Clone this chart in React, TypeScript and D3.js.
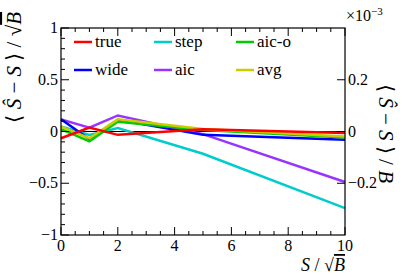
import React from 'react';
import * as d3 from 'd3';

// x positions: S / sqrt(B)
const xs = [0, 1, 2, 5, 10];

// series values, in units of 1e-3 (right axis)
const names = ['true', 'step', 'aic-o', 'wide', 'aic', 'avg'];
const colors = ['#ff0000', '#00cccc', '#00cc00', '#0000ff', '#9933ff', '#cccc00'];
const trueVals = [-0.026, 0.015, -0.013, 0.009, -0.006];
const stepVals = [0.02, -0.013, 0.013, -0.086, -0.296];
const aicoVals = [0.009, -0.038, 0.038, 0.006, -0.023];
const wideVals = [0.047, -0.03, 0.045, -0.013, -0.032];
const aicVals = [0.047, 0.015, 0.062, -0.01, -0.195];
const avgVals = [0.019, -0.026, 0.047, 0.01, -0.019];
const series = [trueVals, stepVals, aicoVals, wideVals, aicVals, avgVals];
const drawOrder = [1, 4, 3, 2, 5, 0];

const xTicks = [0, 2, 4, 6, 8, 10];
const yTicks = [-1, -0.5, 0, 0.5, 1];
const y2Ticks = [-0.2, 0, 0.2];

const W = 407, H = 277;
const m = { l: 61, r: 345, t: 28, b: 235 };
const font = 'Liberation Serif';

function fmt(v: number) {
  return v < 0 ? '\u2212' + String(-v) : String(v);
}

export default function App() {
  const x = d3.scaleLinear().domain([0, 10]).range([m.l, m.r]);
  const y = d3.scaleLinear().domain([-1, 1]).range([m.b, m.t]);
  const y2 = d3.scaleLinear().domain([-0.4, 0.4]).range([m.b, m.t]);
  const line = d3.line<[number, number]>().x(d => x(d[0])).y(d => y2(d[1]));

  const xMinor = d3.range(0, 10.01, 0.5);
  const yMinor = d3.range(-1, 1.001, 0.1);

  const legendCols = [74, 154, 236];
  const legendRows = [42, 70];

  return (
    <svg width={W} height={H} style={{ position: 'absolute', left: 0, top: 0 }}>
      <rect width={W} height={H} fill="white" />
      <g fontFamily={font}>
      {/* zero line */}
      <line x1={m.l} x2={m.r} y1={y(0)} y2={y(0)} stroke="black" strokeWidth={1} />
      {/* series */}
      {drawOrder.map(i => (
        <path key={i} d={line(xs.map((v, k) => [v, series[i][k]] as [number, number])) || ''}
          fill="none" stroke={colors[i]} strokeWidth={2.5} strokeLinejoin="miter" />
      ))}
      {/* frame */}
      <rect x={m.l} y={m.t} width={m.r - m.l} height={m.b - m.t} fill="none" stroke="black" strokeWidth={1.2} />
      {/* bottom / top ticks */}
      {xMinor.map(v => {
        const major = Math.abs(v % 2) < 1e-6;
        const len = major ? 8 : 4;
        return (
          <g key={'x' + v} stroke="black" strokeWidth={1}>
            <line x1={x(v)} x2={x(v)} y1={m.b} y2={m.b - len} />
            <line x1={x(v)} x2={x(v)} y1={m.t} y2={m.t + len} />
          </g>
        );
      })}
      {xTicks.map(v => (
        <text key={'xl' + v} x={x(v)} y={m.b + 16} fontSize={16} textAnchor="middle" fontFamily={font}>{fmt(v)}</text>
      ))}
      {/* left ticks */}
      {yMinor.map(v => {
        const major = Math.abs(Math.round(v * 10) % 5) === 0;
        const len = major ? 8 : 4;
        return <line key={'y' + v} x1={m.l} x2={m.l + len} y1={y(v)} y2={y(v)} stroke="black" strokeWidth={1} />;
      })}
      {yTicks.map(v => (
        <text key={'yl' + v} x={m.l - 3} y={y(v) + 5} fontSize={16} textAnchor="end" fontFamily={font}>{fmt(v)}</text>
      ))}
      {/* right ticks */}
      {y2Ticks.map(v => (
        <g key={'y2' + v}>
          <line x1={m.r} x2={m.r - 8} y1={y2(v)} y2={y2(v)} stroke="black" strokeWidth={1} />
          <text x={m.r + 3} y={y2(v) + 5} fontSize={16} textAnchor="start" fontFamily={font}>{fmt(v)}</text>
        </g>
      ))}
      <text x={m.r + 1} y={21} fontSize={16} fontFamily={font}>
        {'\u00d710'}<tspan dy={-6} fontSize={11}>{'\u22123'}</tspan>
      </text>
      {/* axis titles */}
      <text x={m.r} y={271} fontSize={18} textAnchor="end" fontFamily={font}>
        <tspan fontStyle="italic">S</tspan>{' /  \u221A'}<tspan fontStyle="italic" textDecoration="overline">B</tspan>
      </text>
      <text transform={`translate(21, 12) rotate(-90)`} fontSize={21} textAnchor="end" fontFamily={font}>
        {'\u27E8 '}<tspan fontStyle="italic">{'S\u0302'}</tspan>{' \u2212 '}<tspan fontStyle="italic">S</tspan>{' \u27E9 / \u221A'}<tspan fontStyle="italic" textDecoration="overline">B</tspan>
      </text>
      <text transform={`translate(379, 84) rotate(90)`} fontSize={21} textAnchor="start" fontFamily={font}>
        {'\u27E8 '}<tspan fontStyle="italic">{'S\u0302'}</tspan>{' \u2212 '}<tspan fontStyle="italic">S</tspan>{' \u27E9 / '}<tspan fontStyle="italic">B</tspan>
      </text>
      {/* legend */}
      {names.map((n, i) => {
        const cx = legendCols[i % 3];
        const cy = legendRows[Math.floor(i / 3)];
        return (
          <g key={n}>
            <line x1={cx} x2={cx + 18} y1={cy} y2={cy} stroke={colors[i]} strokeWidth={2.5} />
            <text x={cx + 21} y={cy + 5} fontSize={17} fontFamily={font}>{n}</text>
          </g>
        );
      })}
      </g>
    </svg>
  );
}
